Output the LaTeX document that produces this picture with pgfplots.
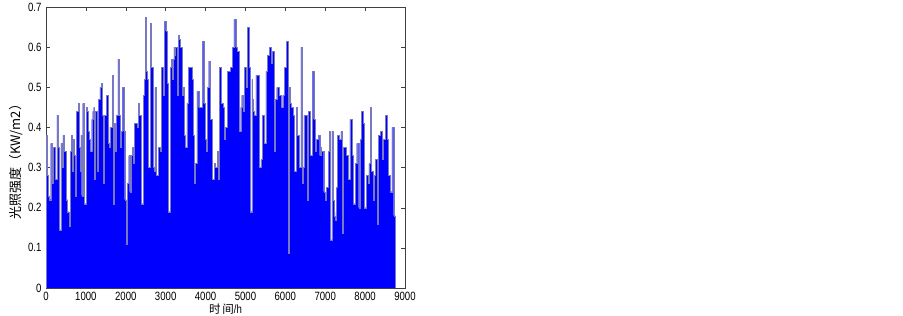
\documentclass[border=0pt]{standalone}
\usepackage{fontspec}
\setmainfont{Liberation Sans}[FakeStretch=0.8]
\newfontfamily\cjk{Noto Sans CJK SC}
\usepackage{pgfplots}
\usepackage{pgfplotstable}
\pgfplotsset{compat=1.18}
\definecolor{barblue}{RGB}{0,0,255}
\definecolor{edgeblue}{RGB}{120,120,195}

\pgfplotstableread{
h v
0 0.38
34 0.28
59 0.23
84 0.22
118 0.36
160 0.26
185 0.35
228 0.27
270 0.43
303 0.35
337 0.145
371 0.36
396 0.30
422 0.38
455 0.34
497 0.22
540 0.19
582 0.155
607 0.34
641 0.38
666 0.29
691 0.37
708 0.33
733 0.23
767 0.44
809 0.46
835 0.35
851 0.29
877 0.38
894 0.23
919 0.46
961 0.21
1012 0.45
1037 0.44
1062 0.39
1087 0.37
1113 0.34
1146 0.42
1172 0.44
1197 0.45
1214 0.27
1239 0.44
1281 0.29
1315 0.47
1349 0.50
1383 0.51
1408 0.43
1425 0.26
1467 0.43
1492 0.43
1517 0.48
1551 0.36
1577 0.35
1602 0.40
1661 0.53
1686 0.21
1720 0.41
1737 0.34
1762 0.43
1804 0.57
1846 0.43
1863 0.35
1888 0.39
1914 0.50
1947 0.39
1973 0.22
2015 0.11
2040 0.26
2074 0.33
2099 0.24
2124 0.33
2158 0.35
2183 0.31
2209 0.41
2251 0.41
2276 0.40
2310 0.46
2343 0.43
2394 0.21
2436 0.48
2461 0.52
2487 0.675
2521 0.54
2546 0.52
2563 0.30
2613 0.66
2647 0.55
2689 0.30
2714 0.29
2731 0.50
2757 0.44
2773 0.28
2816 0.35
2858 0.34
2891 0.55
2934 0.48
2959 0.665
3001 0.64
3043 0.51
3069 0.19
3111 0.55
3136 0.57
3153 0.52
3178 0.57
3203 0.60
3220 0.58
3237 0.60
3279 0.48
3321 0.63
3346 0.62
3363 0.60
3406 0.48
3448 0.50
3473 0.38
3490 0.35
3532 0.46
3574 0.55
3616 0.55
3659 0.52
3701 0.38
3718 0.26
3743 0.31
3785 0.49
3827 0.45
3869 0.45
3912 0.615
3954 0.46
3996 0.37
4013 0.34
4038 0.50
4080 0.565
4122 0.42
4164 0.27
4215 0.31
4249 0.30
4291 0.34
4316 0.27
4350 0.55
4400 0.46
4434 0.45
4468 0.37
4502 0.40
4552 0.54
4586 0.54
4620 0.55
4670 0.60
4712 0.67
4755 0.60
4788 0.59
4839 0.39
4881 0.45
4906 0.48
4940 0.44
4974 0.55
5024 0.50
5050 0.65
5092 0.55
5125 0.19
5159 0.52
5176 0.47
5193 0.44
5227 0.43
5260 0.53
5311 0.53
5345 0.30
5387 0.32
5429 0.43
5471 0.36
5513 0.54
5547 0.58
5598 0.60
5648 0.56
5682 0.59
5724 0.34
5750 0.47
5783 0.50
5850 0.48
5893 0.45
5935 0.48
5977 0.55
6019 0.615
6061 0.087
6087 0.50
6120 0.46
6154 0.45
6188 0.43
6230 0.29
6272 0.45
6306 0.38
6339 0.30
6390 0.60
6424 0.26
6440 0.30
6466 0.43
6508 0.43
6542 0.22
6584 0.44
6626 0.33
6677 0.54
6710 0.42
6744 0.34
6777 0.37
6820 0.38
6862 0.33
6887 0.35
6904 0.34
6963 0.24
6997 0.22
7031 0.25
7073 0.34
7098 0.39
7132 0.12
7166 0.39
7199 0.22
7224 0.18
7241 0.17
7267 0.19
7284 0.25
7309 0.38
7351 0.37
7393 0.39
7435 0.137
7452 0.35
7494 0.35
7537 0.33
7579 0.27
7621 0.42
7671 0.33
7705 0.21
7747 0.31
7789 0.36
7840 0.20
7874 0.37
7907 0.44
7958 0.41
7983 0.20
8025 0.28
8067 0.26
8093 0.31
8127 0.45
8160 0.29
8194 0.22
8228 0.28
8261 0.32
8295 0.16
8337 0.38
8379 0.39
8421 0.32
8464 0.37
8506 0.43
8548 0.37
8590 0.28
8632 0.24
8674 0.40
8717 0.18
8760 0.18
}\lightdata

\begin{document}
\begin{tikzpicture}[x=1pt,y=1pt]
\useasboundingbox[fill=white] (0,0) rectangle (903,316);
\begin{axis}[
  at={(46pt,28pt)}, anchor=south west,
  scale only axis, width=359pt, height=281pt,
  xmin=0, xmax=9000, ymin=0, ymax=0.7,
  xtick={0,1000,2000,3000,4000,5000,6000,7000,8000,9000},
  ytick={0,0.1,0.2,0.3,0.4,0.5,0.6,0.7},
  tick align=inside, major tick length=4pt,
  tick style={black!75, line width=0.4pt},
  axis line style={black!75, line width=0.5pt},
  font=\fontsize{12}{14}\selectfont,
  /pgf/number format/assume math mode=true,
  /pgf/number format/set thousands separator={},
  yticklabel style={/pgf/number format/fixed, /pgf/number format/precision=1, xshift=-1pt},
  xticklabel style={yshift=-0.5pt},
  xlabel={{\cjk\fontsize{11.5}{13}\selectfont 时\,间}/h},
  ylabel={{\cjk\fontsize{13}{15}\selectfont 光照强度（KW/m2）}},
  xlabel style={anchor=center, inner sep=0pt, at={(axis description cs:0.5,-0.074)}},
  ylabel style={anchor=center, at={(axis description cs:-0.082,0.46)}},
]
\addplot[const plot, fill=barblue, draw=edgeblue, line width=0.3pt] table[x=h, y=v] {\lightdata} \closedcycle;
\end{axis}
\end{tikzpicture}
\end{document}
